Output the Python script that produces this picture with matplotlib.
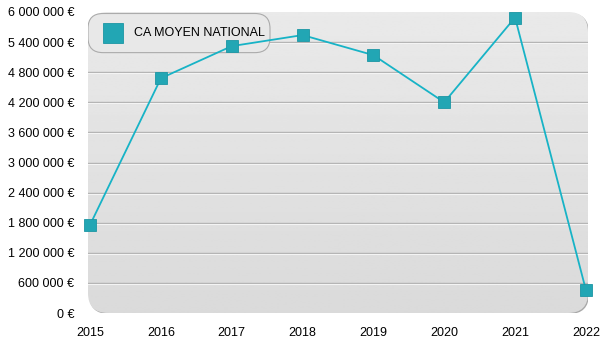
import matplotlib.pyplot as plt
import numpy as np
from matplotlib.patches import FancyBboxPatch
from matplotlib.ticker import FuncFormatter, MultipleLocator
import matplotlib.transforms as mtransforms

plt.rcParams['font.family'] = ['Liberation Sans', 'DejaVu Sans']
plt.rcParams['font.size'] = 9

annees = [2015, 2016, 2017, 2018, 2019, 2020, 2021, 2022]
ca_moyen = [1760000, 4680000, 5320000, 5540000, 5140000, 4200000, 5890000, 460000]
serie = 'CA MOYEN NATIONAL'

fig = plt.figure(figsize=(6, 3.5), dpi=100)
ax = fig.add_axes([88 / 600, 37 / 350, 500 / 600, 301 / 350])
ax.set_xlim(2015 - 0.03, 2022 + 0.03)
ax.set_ylim(0, 6000000)

# fond arrondi avec dégradé
decal = mtransforms.ScaledTranslation(1 / 100, -1 / 100, fig.dpi_scale_trans)
ombre = FancyBboxPatch((0, 0), 1, 1, boxstyle='round,pad=0,rounding_size=0.04',
                       transform=ax.transAxes + decal,
                       facecolor='#a8a8a8', edgecolor='none', zorder=0, mutation_aspect=500 / 301)
ax.add_patch(ombre)
fond = FancyBboxPatch((0, 0), 1, 1, boxstyle='round,pad=0,rounding_size=0.04',
                      transform=ax.transAxes, facecolor='none', edgecolor='none',
                      zorder=0.5, mutation_aspect=500 / 301)
ax.add_patch(fond)
degrade = np.linspace(0.855, 0.915, 256).reshape(-1, 1)
img = ax.imshow(degrade, extent=[0, 1, 0, 1], transform=ax.transAxes, cmap='gray',
                vmin=0, vmax=1, aspect='auto', origin='lower', zorder=0.6)
img.set_clip_path(fond)

# lignes de grille en relief
bas = mtransforms.ScaledTranslation(0, -1 / 100, fig.dpi_scale_trans)
for v in np.arange(600000, 6000000, 600000):
    ax.plot([0, 1], [v, v], color='#b2b2b2', lw=1, zorder=1, transform=ax.get_yaxis_transform())
    ax.plot([0, 1], [v, v], color='#f4f4f4', lw=0.8, zorder=1,
            transform=ax.get_yaxis_transform() + bas)

# légende (sous la courbe)
leg_box = FancyBboxPatch((0.0, 0.865), 0.364, 0.13, boxstyle='round,pad=0,rounding_size=0.03',
                         transform=ax.transAxes, facecolor='#e8e8e8', edgecolor='#ababab',
                         lw=0.8, zorder=2, mutation_aspect=500 / 301)
ax.add_patch(leg_box)
ax.plot([0.05], [0.93], 's', ms=14, color='#22a6b4', mec='#1b96a4', mew=0.6,
        transform=ax.transAxes, zorder=2.5, clip_on=False)
ax.text(0.092, 0.93, serie, transform=ax.transAxes, va='center', ha='left',
        fontsize=9, zorder=2.5)

# courbe
ax.plot(annees, ca_moyen, color='#17b3c6', lw=1.3, zorder=3, clip_on=False)
ax.plot(annees, ca_moyen, 's', ms=8.5, color='#22a6b4', mec='#1b96a4', mew=0.6,
        zorder=4, clip_on=False)

ax.yaxis.set_major_locator(MultipleLocator(600000))
ax.yaxis.set_major_formatter(FuncFormatter(lambda v, p: '{:,.0f} €'.format(v).replace(',', ' ')))
ax.set_xticks(annees)
ax.tick_params(length=0, colors='black', labelsize=9)
ax.tick_params(axis='y', pad=10)
ax.tick_params(axis='x', pad=10)
for s in ax.spines.values():
    s.set_visible(False)

fig.savefig('out.png', dpi=100)
